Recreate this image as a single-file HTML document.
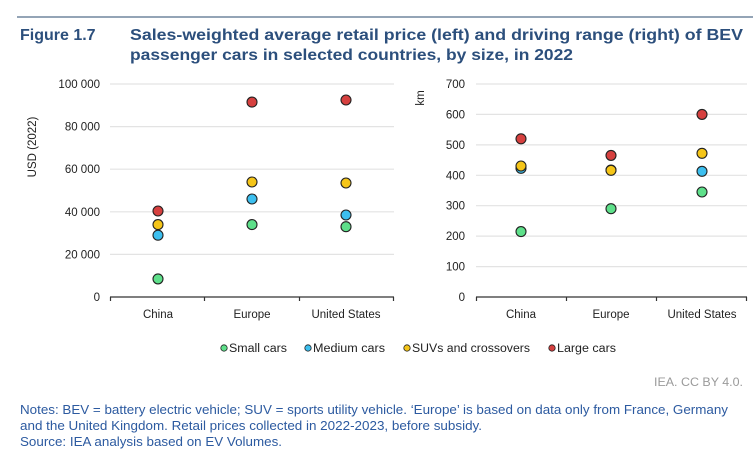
<!DOCTYPE html>
<html><head><meta charset="utf-8"><style>
html,body{margin:0;padding:0;background:#fff;}
svg{display:block;font-family:"Liberation Sans",Arial,sans-serif;}
</style></head><body>
<svg width="753" height="461" viewBox="0 0 753 461" xmlns="http://www.w3.org/2000/svg">
<line x1="17" y1="17" x2="753" y2="17" stroke="#2a4a6e" stroke-width="1"/>
<g fill="#2c4f7c" font-weight="bold" font-size="16">
<text x="20" y="40">Figure 1.7</text>
<text x="130" y="40" textLength="613" lengthAdjust="spacingAndGlyphs">Sales-weighted average retail price (left) and driving range (right) of BEV</text>
<text x="130" y="60" textLength="443" lengthAdjust="spacingAndGlyphs">passenger cars in selected countries, by size, in 2022</text>
</g>
<g stroke="#e3e3e3" stroke-width="1.2">
<line x1="110" y1="84" x2="394" y2="84"/><line x1="110" y1="126.6" x2="394" y2="126.6"/>
<line x1="110" y1="169.2" x2="394" y2="169.2"/><line x1="110" y1="211.8" x2="394" y2="211.8"/>
<line x1="110" y1="254.4" x2="394" y2="254.4"/>
<line x1="476" y1="84" x2="747" y2="84"/><line x1="476" y1="114.4" x2="747" y2="114.4"/>
<line x1="476" y1="144.9" x2="747" y2="144.9"/><line x1="476" y1="175.3" x2="747" y2="175.3"/>
<line x1="476" y1="205.7" x2="747" y2="205.7"/><line x1="476" y1="236.1" x2="747" y2="236.1"/>
<line x1="476" y1="266.6" x2="747" y2="266.6"/>
</g>
<g stroke="#333" stroke-width="1.2">
<line x1="110" y1="297" x2="394" y2="297"/>
<line x1="110.5" y1="297" x2="110.5" y2="301"/><line x1="204.5" y1="297" x2="204.5" y2="301"/><line x1="299.5" y1="297" x2="299.5" y2="301"/><line x1="393.5" y1="297" x2="393.5" y2="301"/>
<line x1="476" y1="297" x2="747" y2="297"/>
<line x1="476.5" y1="297" x2="476.5" y2="301"/><line x1="566.5" y1="297" x2="566.5" y2="301"/><line x1="656.5" y1="297" x2="656.5" y2="301"/><line x1="746.5" y1="297" x2="746.5" y2="301"/>
</g>
<g font-size="11.5" fill="#222" text-anchor="end">
<text x="100" y="88">100 000</text><text x="100" y="130.6">80 000</text><text x="100" y="173.2">60 000</text>
<text x="100" y="215.8">40 000</text><text x="100" y="258.4">20 000</text><text x="100" y="301">0</text>
<text x="465" y="88">700</text><text x="465" y="118.4">600</text><text x="465" y="148.9">500</text>
<text x="465" y="179.3">400</text><text x="465" y="209.7">300</text><text x="465" y="240.1">200</text>
<text x="465" y="270.6">100</text><text x="465" y="301">0</text>
</g>
<text transform="translate(36,147) rotate(-90)" font-size="11.5" fill="#222" text-anchor="middle">USD (2022)</text>
<text transform="translate(424,98) rotate(-90)" font-size="11.5" fill="#222" text-anchor="middle">km</text>
<g font-size="11.5" fill="#222" text-anchor="middle">
<text x="158" y="318">China</text><text x="252" y="318">Europe</text><text x="346" y="318">United States</text>
<text x="521" y="318">China</text><text x="611" y="318">Europe</text><text x="702" y="318">United States</text>
</g>
<g stroke="#222" stroke-width="1.1">
<circle cx="158" cy="278.9" r="5" fill="#5ee08a"/>
<circle cx="158" cy="235.2" r="5" fill="#3cbfef"/>
<circle cx="158" cy="224.6" r="5" fill="#f5c518"/>
<circle cx="158" cy="211" r="5" fill="#d6403f"/>
<circle cx="252" cy="224.6" r="5" fill="#5ee08a"/>
<circle cx="252" cy="199" r="5" fill="#3cbfef"/>
<circle cx="252" cy="182" r="5" fill="#f5c518"/>
<circle cx="252" cy="102.1" r="5" fill="#d6403f"/>
<circle cx="346" cy="226.7" r="5" fill="#5ee08a"/>
<circle cx="346" cy="215" r="5" fill="#3cbfef"/>
<circle cx="346" cy="183" r="5" fill="#f5c518"/>
<circle cx="346" cy="100" r="5" fill="#d6403f"/>
<circle cx="521" cy="231.6" r="5" fill="#5ee08a"/>
<circle cx="521" cy="168.3" r="5" fill="#3cbfef"/>
<circle cx="521" cy="166" r="5" fill="#f5c518"/>
<circle cx="521" cy="138.8" r="5" fill="#d6403f"/>
<circle cx="611" cy="208.7" r="5" fill="#5ee08a"/>
<circle cx="611" cy="170" r="5" fill="#3cbfef"/>
<circle cx="611" cy="170.3" r="5" fill="#f5c518"/>
<circle cx="611" cy="155.4" r="5" fill="#d6403f"/>
<circle cx="702" cy="192" r="5" fill="#5ee08a"/>
<circle cx="702" cy="171.3" r="5" fill="#3cbfef"/>
<circle cx="702" cy="153.3" r="5" fill="#f5c518"/>
<circle cx="702" cy="114.4" r="5" fill="#d6403f"/>
</g>
<g stroke="#222" stroke-width="0.8">
<circle cx="224" cy="348" r="3.2" fill="#5ee08a"/><circle cx="308" cy="348" r="3.2" fill="#3cbfef"/>
<circle cx="407" cy="348" r="3.2" fill="#f5c518"/><circle cx="552" cy="348" r="3.2" fill="#d6403f"/>
</g>
<g font-size="11.5" fill="#222">
<text x="229" y="352" textLength="58" lengthAdjust="spacingAndGlyphs">Small cars</text>
<text x="313" y="352" textLength="72" lengthAdjust="spacingAndGlyphs">Medium cars</text>
<text x="412" y="352" textLength="118" lengthAdjust="spacingAndGlyphs">SUVs and crossovers</text>
<text x="557" y="352" textLength="59" lengthAdjust="spacingAndGlyphs">Large cars</text>
</g>
<text x="743" y="386" font-size="12" fill="#9a9a9a" text-anchor="end" textLength="89" lengthAdjust="spacingAndGlyphs">IEA. CC BY 4.0.</text>
<g font-size="12.5" fill="#2c5aa0">
<text x="20" y="414" textLength="708" lengthAdjust="spacingAndGlyphs">Notes: BEV = battery electric vehicle; SUV = sports utility vehicle. ‘Europe’ is based on data only from France, Germany</text>
<text x="20" y="430" textLength="462" lengthAdjust="spacingAndGlyphs">and the United Kingdom. Retail prices collected in 2022-2023, before subsidy.</text>
<text x="20" y="446" textLength="262" lengthAdjust="spacingAndGlyphs">Source: IEA analysis based on EV Volumes.</text>
</g>
</svg>
</body></html>
